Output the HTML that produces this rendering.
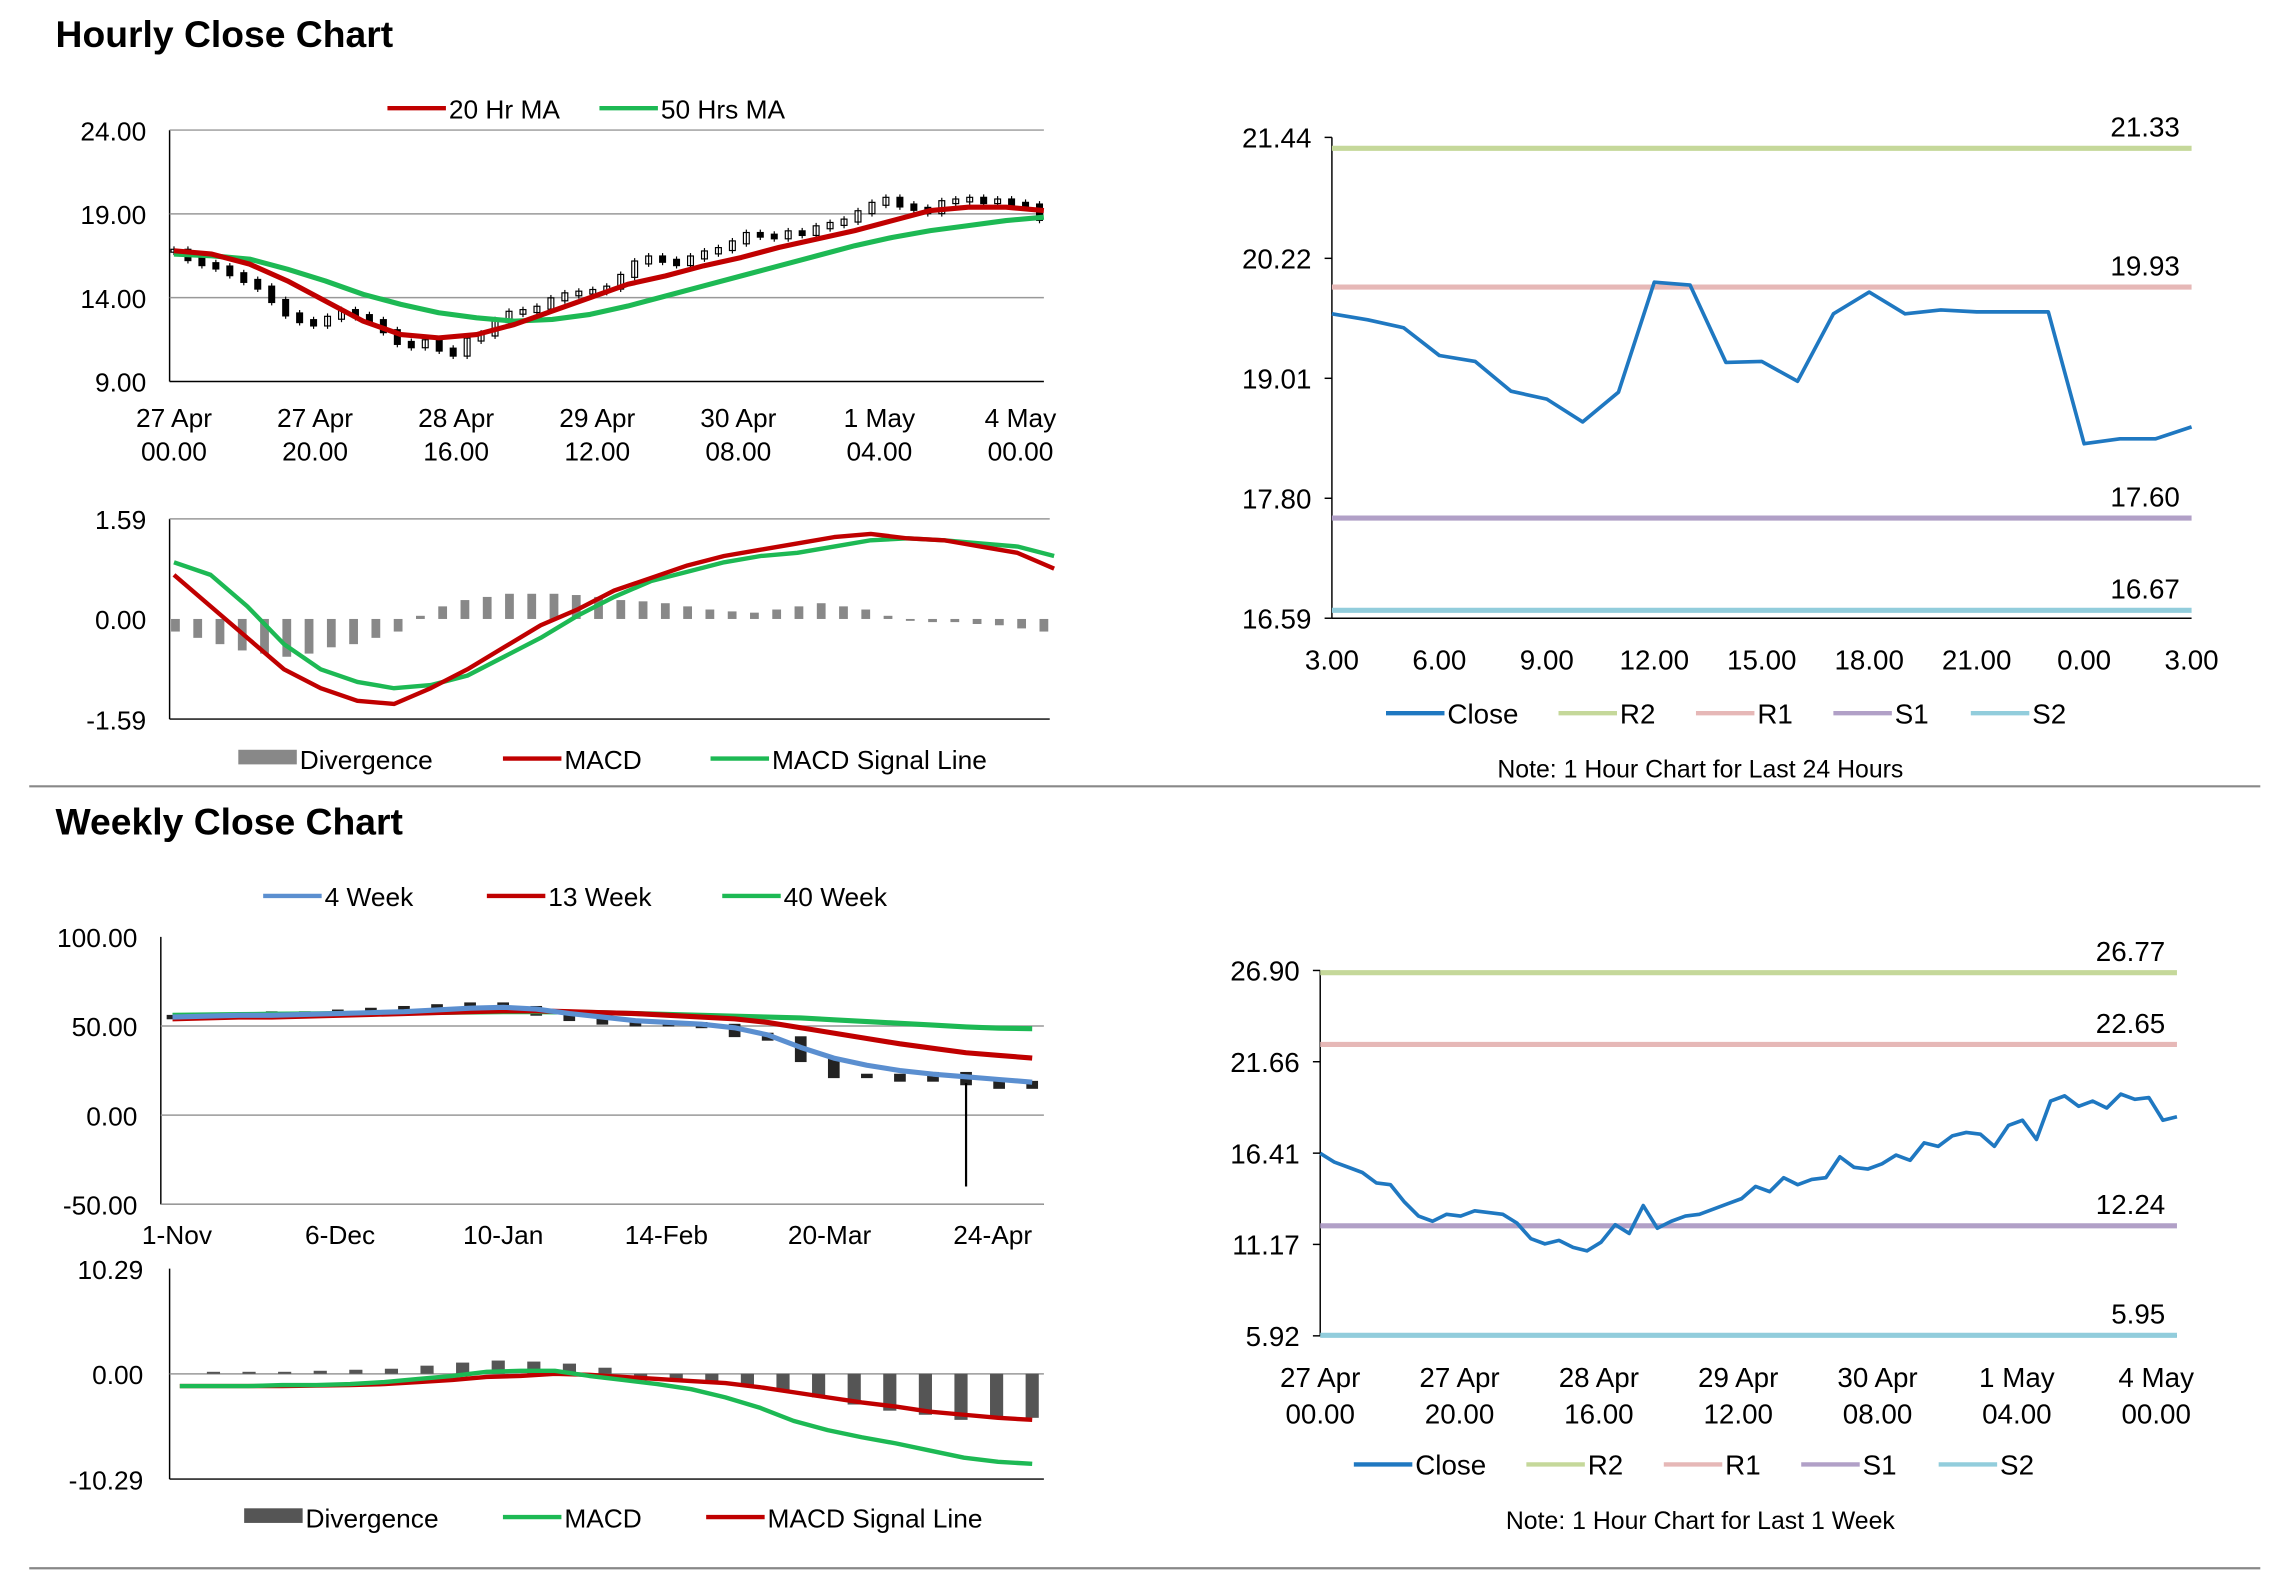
<!DOCTYPE html>
<html><head><meta charset="utf-8">
<style>
html,body{margin:0;padding:0;background:#fff;}
svg{display:block;font-family:"Liberation Sans",Arial,sans-serif;}
</style></head>
<body>
<svg id="c" width="2291" height="1577" viewBox="0 0 1567 1079" preserveAspectRatio="none" xmlns="http://www.w3.org/2000/svg">
<rect width="1567" height="1079" fill="#fff"/>
<text x="38" y="32" font-size="25.5" font-weight="bold">Hourly Close Chart</text>
<text x="38" y="571" font-size="25.5" font-weight="bold">Weekly Close Chart</text>
<line x1="20" y1="538" x2="1546" y2="538" stroke="#888" stroke-width="1.5"/>
<line x1="20" y1="1073" x2="1546" y2="1073" stroke="#888" stroke-width="1.5"/>
<g id="g"></g>
</svg>
<script>
// ---- data ----
const hourlyClose=[16.8,16.3,16.0,15.8,15.4,15.0,14.6,13.8,13.0,12.6,12.4,12.8,13.2,12.9,12.6,12.0,11.3,11.1,11.4,10.9,10.6,11.5,11.8,12.6,13.1,13.2,13.4,13.9,14.2,14.3,14.4,14.6,15.3,16.1,16.4,16.2,16.0,16.4,16.7,16.9,17.3,17.8,17.7,17.6,17.9,17.8,18.2,18.4,18.6,19.1,19.6,19.9,19.5,19.3,19.1,19.7,19.8,19.9,19.7,19.8,19.6,19.5,18.7];
const ma20=[16.8,16.6,16.0,15.0,13.8,12.6,11.8,11.6,11.8,12.4,13.2,14.0,14.8,15.3,15.9,16.4,17.0,17.5,18.0,18.6,19.2,19.4,19.4,19.2];
const ma50=[16.6,16.5,16.3,15.7,15.0,14.2,13.6,13.1,12.8,12.6,12.7,13.0,13.5,14.1,14.7,15.3,15.9,16.5,17.1,17.6,18.0,18.3,18.6,18.8];
const hMacd=[0.7,0.2,-0.3,-0.8,-1.1,-1.3,-1.35,-1.1,-0.8,-0.45,-0.1,0.15,0.45,0.65,0.85,1.0,1.1,1.2,1.3,1.35,1.28,1.25,1.15,1.05,0.8];
const hSignal=[0.9,0.7,0.2,-0.4,-0.8,-1.0,-1.1,-1.05,-0.9,-0.6,-0.3,0.05,0.35,0.6,0.75,0.9,1.0,1.05,1.15,1.25,1.28,1.25,1.2,1.15,1.0];
const hDiv=[-0.2,-0.3,-0.4,-0.5,-0.55,-0.6,-0.55,-0.45,-0.4,-0.3,-0.2,0.05,0.2,0.3,0.35,0.4,0.4,0.4,0.38,0.35,0.3,0.28,0.25,0.2,0.15,0.12,0.1,0.15,0.2,0.25,0.2,0.15,0.05,-0.03,-0.05,-0.05,-0.08,-0.1,-0.15,-0.2];
const dayClose=[19.66,19.60,19.52,19.24,19.18,18.88,18.80,18.57,18.87,19.98,19.95,19.17,19.18,18.98,19.66,19.88,19.66,19.70,19.68,19.68,19.68,18.35,18.40,18.40,18.52];
const dayTicks=["3.00","6.00","9.00","12.00","15.00","18.00","21.00","0.00","3.00"];
const weekTicks=["1-Nov","6-Dec","10-Jan","14-Feb","20-Mar","24-Apr"];
const wk4=[55,55.5,56,56,56.5,57,57.5,58,59,60,60.5,59.5,57,55,53,52,51,49,45,38,32,28,25,23,21.5,20,18.5];
const wk13=[54,54.5,55,55,55.5,56,56.5,57,57.5,58,58.5,58.5,58,57.5,57,56,55,54,52,49,46,43,40,37.5,35,33.5,32];
const wk40=[56,56.2,56.4,56.6,56.8,57,57.2,57.4,57.6,57.8,58,58,57.8,57.5,57,56.5,56,55.5,55,54.5,53.5,52.5,51.5,50.5,49.5,48.8,48.5];
const wkClose=[55,56,56,57,57,58,59,60,61,62,60,57,54,52,51,51,50,45,43,31,22,22,20,23,18,16,18];
const wMacd=[-1.2,-1.2,-1.2,-1.1,-1.1,-1.0,-0.8,-0.5,-0.2,0.2,0.3,0.3,-0.2,-0.6,-1.0,-1.5,-2.3,-3.3,-4.6,-5.5,-6.2,-6.8,-7.5,-8.2,-8.6,-8.8];
const wSignal=[-1.2,-1.2,-1.2,-1.2,-1.15,-1.1,-1.0,-0.8,-0.6,-0.3,-0.2,0.0,-0.1,-0.3,-0.5,-0.7,-0.9,-1.3,-1.8,-2.3,-2.8,-3.2,-3.7,-4.0,-4.3,-4.5];
const wDiv=[0.2,0.2,0.2,0.3,0.4,0.5,0.8,1.1,1.3,1.2,1.0,0.6,-0.3,-0.6,-0.9,-1.1,-1.6,-2.3,-3.0,-3.6,-4.0,-4.5,-4.3,-4.3];
const weekClose=[16.4,15.9,15.6,15.3,14.7,14.6,13.6,12.8,12.5,12.9,12.8,13.1,13.0,12.9,12.4,11.5,11.2,11.4,11.0,10.8,11.3,12.3,11.8,13.4,12.1,12.5,12.8,12.9,13.2,13.5,13.8,14.5,14.2,15.0,14.6,14.9,15.0,16.2,15.6,15.5,15.8,16.3,16.0,17.0,16.8,17.4,17.6,17.5,16.8,18.0,18.3,17.2,19.4,19.7,19.1,19.4,19.0,19.8,19.5,19.6,18.3,18.5];
const weekTicksX=[["27 Apr","00.00"],["27 Apr","20.00"],["28 Apr","16.00"],["29 Apr","12.00"],["30 Apr","08.00"],["1 May","04.00"],["4 May","00.00"]];

const G=document.getElementById('g');
const NS="http://www.w3.org/2000/svg";
function el(tag,attrs,parent){const e=document.createElementNS(NS,tag);for(const k in attrs)e.setAttribute(k,attrs[k]);(parent||G).appendChild(e);return e;}
function txt(x,y,s,size,anchor){const t=el('text',{x:x,y:y,'font-size':size||17,'text-anchor':anchor||'middle',fill:'#000'});t.textContent=s;return t;}
function lin(d0,d1,r0,r1){return v=>r0+(v-d0)/(d1-d0)*(r1-r0);}
function poly(arr,xs,ys,color,w){const pts=arr.map((v,i)=>xs(i)+','+ys(v)).join(' ');return el('polyline',{points:pts,fill:'none',stroke:color,'stroke-width':w||3,'stroke-linejoin':'round'});}
function legend(items,y,size){items.forEach(it=>{const g=el('g',{});


if(it.bar)el('rect',{x:it.x,y:y-6,width:40,height:10,fill:it.c},g);else el('line',{x1:it.x,y1:y,x2:it.x+40,y2:y,stroke:it.c,'stroke-width':3},g);
const t=el('text',{x:it.x+42,y:y+7,'font-size':size||19},g);t.textContent=it.t;});}

// ===== Chart 1: hourly candles =====
{const x0=116,x1=714,y=lin(9,24,261,89);
el('line',{x1:x0,y1:89,x2:x0,y2:261,stroke:'#000'});el('line',{x1:x0,y1:261,x2:x1,y2:261,stroke:'#000'});
[24,19,14,9].forEach(v=>{if(v>9){el('line',{x1:x0,y1:y(v),x2:x1,y2:y(v),stroke:'#999'})}txt(x0-16,y(v)+7,v.toFixed(2),18,'end');});
const xs=i=>x0+3+i*(x1-x0-6)/(hourlyClose.length-1);
hourlyClose.forEach((v,i)=>{const p=i?hourlyClose[i-1]:v;const c=el('rect',{x:xs(i)-2,y:y(Math.max(v,p))-1,width:4,height:Math.abs(y(v)-y(p))+2,fill:v>=p?'#fff':'#000',stroke:'#000','stroke-width':0.8});


el('line',{x1:xs(i),y1:y(Math.max(v,p))-3,x2:xs(i),y2:y(Math.min(v,p))+3,stroke:'#000','stroke-width':0.8});});
const xm=i=>x0+3+i*(x1-x0-3)/(ma20.length-1);
const a=poly(ma50,xm,y,'#1db954',3.5);
const b=poly(ma20,xm,y,'#c00000',3.5);
weekTicksX.forEach((t,i)=>{const xx=119+i*96.5;txt(xx,292,t[0],18);txt(xx,315,t[1],18);});
legend([{x:265,c:'#c00000',t:'20 Hr MA',n:'ma20'},{x:410,c:'#1db954',t:'50 Hrs MA',n:'ma50'}],74,18);}

// ===== Chart 2: hourly MACD =====
{const x0=116,x1=718,y=lin(-1.59,1.59,492,355);
el('line',{x1:x0,y1:355,x2:x0,y2:492,stroke:'#000'});el('line',{x1:x0,y1:492,x2:x1,y2:492,stroke:'#000'});el('line',{x1:x0,y1:355,x2:x1,y2:355,stroke:'#999'});
[[1.59,'1.59'],[0,'0.00'],[-1.59,'-1.59']].forEach(([v,s])=>txt(x0-16,y(v)+7,s,18,'end'));
const xd=i=>x0+4+i*(x1-x0-8)/(hDiv.length-1);
hDiv.forEach((v,i)=>{const r=el('rect',{x:xd(i)-3,y:Math.min(y(0),y(v)),width:6,height:Math.abs(y(v)-y(0)),fill:'#888'});
});
const xs=i=>x0+3+i*(x1-x0)/(hMacd.length-1);
const s=poly(hSignal,xs,y,'#1db954',3);
const m=poly(hMacd,xs,y,'#c00000',3);
legend([{x:163,c:'#888',t:'Divergence',bar:1,n:'divergence'},{x:344,c:'#c00000',t:'MACD',n:'macd'},{x:486,c:'#1db954',t:'MACD Signal Line',n:'signal'}],519,18);}

// pivot charts
function pivot(o){const {x0,x1,yt,yb,top,bot,ticks,levels,data,xt,leg,note,name}=o;const y=lin(bot,top,yb,yt);
el('line',{x1:x0,y1:yt,x2:x0,y2:yb,stroke:'#000'});el('line',{x1:x0,y1:yb,x2:x1,y2:yb,stroke:'#000'});
ticks.forEach(v=>{txt(x0-14,y(v)+7,v.toFixed(2),19,'end');el('line',{x1:x0-5,y1:y(v),x2:x0,y2:y(v),stroke:'#000'});});
levels.forEach(l=>{const ln=el('line',{x1:x0,y1:y(l.v),x2:x1,y2:y(l.v),stroke:l.c,'stroke-width':3.5});

txt(x1-8,y(l.v)-8,l.v.toFixed(2),19,'end');});
const xs=i=>x0+i*(x1-x0)/(data.length-1);
const p=poly(data,xs,y,'#1f78c1',2.5);
xt();
legend([{x:leg,c:'#1f78c1',t:'Close',n:'close'},{x:leg+118,c:'#c5d89a',t:'R2',n:'r2'},{x:leg+212,c:'#e6b8b7',t:'R1',n:'r1'},{x:leg+306,c:'#b1a0c7',t:'S1',n:'s1'},{x:leg+400,c:'#92cddc',t:'S2',n:'s2'}],o.ly,19);
txt(o.nx,o.ny,note,17);}
pivot({x0:911,x1:1499,yt:94,yb:423,top:21.44,bot:16.59,ticks:[21.44,20.22,19.01,17.80,16.59],
levels:[{v:21.33,c:'#c5d89a',n:'r2'},{v:19.93,c:'#e6b8b7',n:'r1'},{v:17.60,c:'#b1a0c7',n:'s1'},{v:16.67,c:'#92cddc',n:'s2'}],
data:dayClose,name:'day',xt:()=>dayTicks.forEach((t,i)=>txt(911+i*73.5,458,t,19)),leg:948,ly:488,note:'Note: 1 Hour Chart for Last 24 Hours',nx:1163,ny:532});
pivot({x0:903,x1:1489,yt:664,yb:914,top:26.90,bot:5.92,ticks:[26.90,21.66,16.41,11.17,5.92],
levels:[{v:26.77,c:'#c5d89a',n:'r2'},{v:22.65,c:'#e6b8b7',n:'r1'},{v:12.24,c:'#b1a0c7',n:'s1'},{v:5.95,c:'#92cddc',n:'s2'}],
data:weekClose,name:'week',xt:()=>weekTicksX.forEach((t,i)=>{const xx=903+i*95.3;txt(xx,949,t[0],19);txt(xx,974,t[1],19);}),leg:926,ly:1002,note:'Note: 1 Hour Chart for Last 1 Week',nx:1163,ny:1046});

// ===== Chart 3: weekly MA =====
{const x0=110,x1=714,y=lin(-50,100,824,641);
el('line',{x1:x0,y1:641,x2:x0,y2:824,stroke:'#000'});el('line',{x1:x0,y1:824,x2:x1,y2:824,stroke:'#000'});
[100,50,0,-50].forEach(v=>{txt(x0-16,y(v)+7,v.toFixed(2),18,'end');if(v<100)el('line',{x1:x0,y1:y(v),x2:x1,y2:y(v),stroke:'#999'});});
const xs=i=>118+i*(706-118)/(wk4.length-1);
wkClose.forEach((v,i)=>{const p=i?wkClose[i-1]:v;const c=el('rect',{x:xs(i)-4,y:y(Math.max(v,p))-1.5,width:8,height:Math.abs(y(v)-y(p))+3,fill:'#222'});
});
el('line',{x1:xs(24),y1:y(18),x2:xs(24),y2:y(-40),stroke:'#000','stroke-width':1.5});
[['wk40',wk40,'#1db954'],['wk13',wk13,'#c00000'],['wk4',wk4,'#5b8fd0']].forEach(([n,a,c])=>{const p=poly(a,xs,y,c,3.5);});
weekTicks.forEach((t,i)=>txt(121+i*111.6,851,t,18));
legend([{x:180,c:'#5b8fd0',t:'4 Week',n:'wk4'},{x:333,c:'#c00000',t:'13 Week',n:'wk13'},{x:494,c:'#1db954',t:'40 Week',n:'wk40'}],613,18);}

// ===== Chart 4: weekly MACD =====
{const x0=116,x1=714,y=lin(-10.29,10.29,1012,868);
el('line',{x1:x0,y1:868,x2:x0,y2:1012,stroke:'#000'});el('line',{x1:x0,y1:1012,x2:x1,y2:1012,stroke:'#000'});el('line',{x1:x0,y1:y(0),x2:x1,y2:y(0),stroke:'#999'});
[[10.29,'10.29'],[0,'0.00'],[-10.29,'-10.29']].forEach(([v,s])=>txt(x0-18,y(v)+7,s,18,'end'));
const xd=i=>146+i*(706-146)/(wDiv.length-1);
wDiv.forEach((v,i)=>{const r=el('rect',{x:xd(i)-4.5,y:Math.min(y(0),y(v)),width:9,height:Math.abs(y(v)-y(0)),fill:'#555'});
});
const xs=i=>123+i*(706-123)/(wMacd.length-1);
const s=poly(wSignal,xs,y,'#c00000',3);
const m=poly(wMacd,xs,y,'#1db954',3);
legend([{x:167,c:'#555',t:'Divergence',bar:1,n:'weekly-divergence'},{x:344,c:'#1db954',t:'MACD',n:'weekly-macd'},{x:483,c:'#c00000',t:'MACD Signal Line',n:'weekly-signal'}],1038,18);}
</script>
</body></html>
